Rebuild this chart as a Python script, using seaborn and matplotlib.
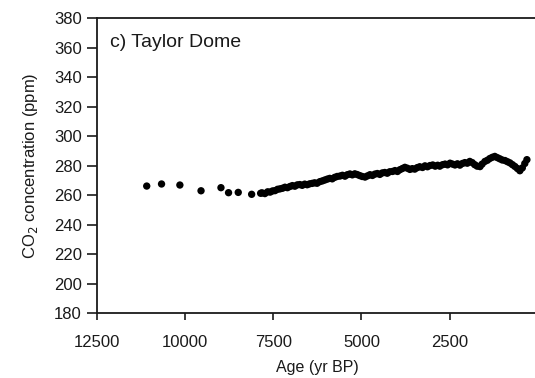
import numpy as np
import pandas as pd
import matplotlib
matplotlib.use("Agg")
import matplotlib.pyplot as plt
import seaborn as sns

# Sparse early-Holocene samples
age_sparse = [11090, 10670, 10150, 9550, 8985, 8770, 8495, 8115, 7860]
co2_sparse = [266.1, 267.5, 266.8, 262.9, 265.0, 261.6, 261.8, 260.5, 261.2]

# Dense samples
age_dense = [7820, 7740, 7660, 7590, 7520, 7450, 7380, 7310, 7240, 7170, 7100, 7030,
             6960, 6890, 6820, 6750, 6680, 6610, 6540, 6470, 6400, 6330, 6260, 6180,
             6110, 6040, 5970, 5900, 5830, 5760, 5690, 5610, 5540, 5470, 5400, 5330,
             5260, 5190, 5120, 5050, 4980, 4900, 4830, 4760, 4690, 4620, 4550, 4480,
             4410, 4340, 4270, 4200, 4120, 4050, 3980, 3910, 3840, 3770, 3700, 3630,
             3560, 3490, 3420, 3350, 3270, 3200, 3130, 3060, 2980, 2910, 2840, 2780,
             2700, 2630, 2560, 2490, 2420, 2350, 2280, 2210, 2140, 2070, 2000, 1930,
             1860, 1790, 1720, 1640, 1580, 1500, 1430, 1360, 1290, 1220, 1150, 1080,
             1010, 930, 860, 790, 720, 650, 580, 510, 440, 370, 310]
co2_dense = [261.5, 261.0, 262.2, 262.0, 262.8, 263.0, 263.9, 264.2, 264.6, 265.3, 265.0, 265.8,
             266.4, 266.0, 266.9, 267.1, 266.6, 267.4, 267.0, 267.6, 267.9, 268.3, 268.0, 269.1,
             269.6, 270.2, 270.8, 271.3, 271.0, 272.0, 272.6, 272.9, 273.4, 272.8, 273.8, 274.3,
             273.7, 274.4, 273.9, 273.2, 272.6, 272.2, 273.0, 273.8, 273.3, 274.2, 274.6, 274.0,
             275.0, 275.3, 274.8, 275.8, 276.0, 276.6, 276.0, 277.2, 278.0, 278.8, 278.2, 277.4,
             277.9, 277.6, 278.6, 279.2, 278.7, 279.8, 279.2, 280.0, 280.4, 279.6, 280.2, 279.6,
             280.6, 281.0, 280.5, 281.6, 281.0, 280.4, 281.2, 280.3, 281.4, 282.0, 281.6, 282.8,
             282.0, 280.6, 279.6, 279.3, 281.0, 282.8, 283.6, 284.8, 285.6, 286.2, 285.4, 284.6,
             283.8, 283.4, 282.6, 281.8, 280.6, 279.4, 278.0, 276.5, 278.4, 281.4, 284.0]

x_ticks = [12500, 10000, 7500, 5000, 2500]
y_ticks = list(range(180, 381, 20))

df = pd.DataFrame({"age": age_sparse + age_dense, "co2": co2_sparse + co2_dense})

sns.set_theme(style="white")
plt.rcParams['font.family'] = ['Liberation Sans', 'DejaVu Sans']

fig = plt.figure(figsize=(5.35, 3.78), dpi=100)
ax = fig.add_axes([0.1813, 0.172, 0.824, 0.780])

sns.scatterplot(data=df, x="age", y="co2", ax=ax, color="black", s=28,
                edgecolor="none", linewidth=0, legend=False)

ax.set_xlim(12500, 0)
ax.set_ylim(180, 380)
ax.set_xticks(x_ticks)
ax.set_xticklabels([str(t) for t in x_ticks])
ax.set_yticks(y_ticks)
ax.set_yticklabels([str(t) for t in y_ticks])

for side in ["left", "bottom", "top", "right"]:
    ax.spines[side].set_visible(True)
    ax.spines[side].set_color("#1a1a1a")
    ax.spines[side].set_linewidth(1.3)

ax.tick_params(axis="y", direction="out", length=7, width=1.2, color="#1a1a1a",
               labelsize=12, pad=4, left=True, labelcolor="#1a1a1a")
ax.tick_params(axis="x", direction="out", length=5, width=1.2, color="#1a1a1a",
               labelsize=12, pad=11, bottom=True, labelcolor="#1a1a1a")

ax.set_xlabel("Age (yr BP)", fontsize=11.5, labelpad=7, color="#1a1a1a")
ax.set_ylabel("CO$_2$ concentration (ppm)", fontsize=12, labelpad=10, color="#1a1a1a")
ax.text(0.03, 0.945, "c) Taylor Dome", transform=ax.transAxes, fontsize=14,
        ha="left", va="top", color="#1a1a1a")

fig.savefig("out.png", dpi=100)
